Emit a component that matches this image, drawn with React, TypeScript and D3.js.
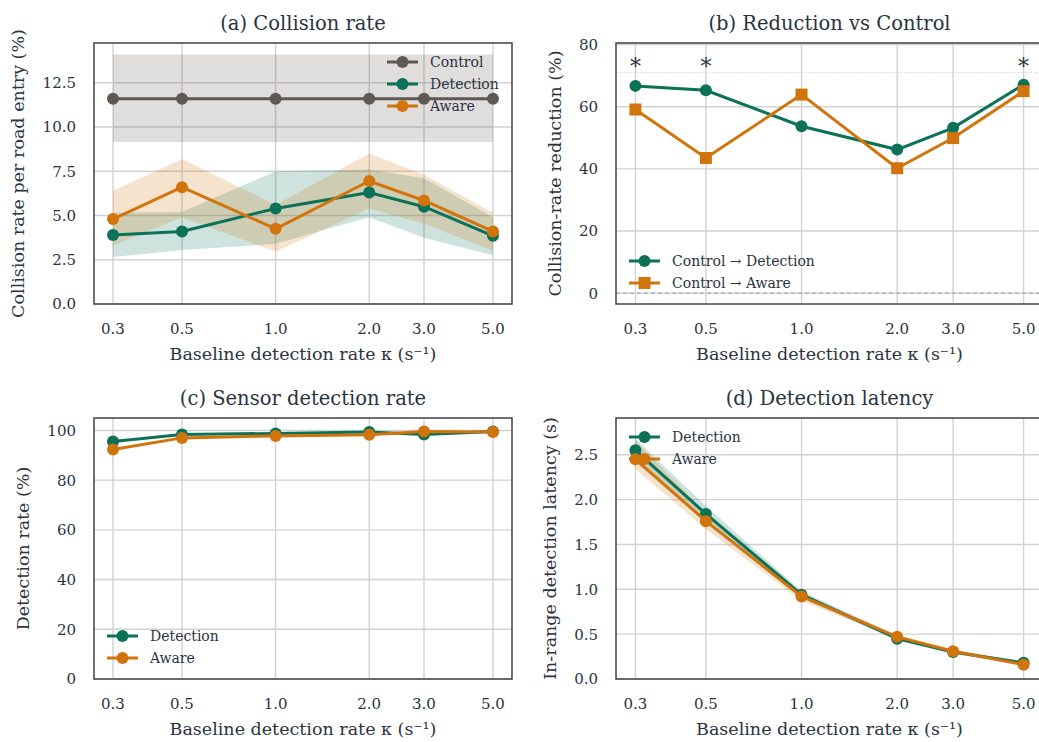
import React, { useRef, useEffect } from 'react';
import * as d3 from 'd3';

// x: baseline detection rate kappa (log axis)
const kappa = [0.3, 0.5, 1.0, 2.0, 3.0, 5.0];
const kappaLabels = ['0.3', '0.5', '1.0', '2.0', '3.0', '5.0'];

// (a) collision rate per road entry (%)
const controlRate = [11.6, 11.6, 11.6, 11.6, 11.6, 11.6];
const controlLo = [9.15, 9.15, 9.15, 9.15, 9.15, 9.15];
const controlHi = [14.1, 14.1, 14.1, 14.1, 14.1, 14.1];
const detectionRate = [3.9, 4.1, 5.4, 6.3, 5.5, 3.85];
const detectionLo = [2.65, 3.05, 3.4, 4.9, 3.75, 2.75];
const detectionHi = [5.15, 5.2, 7.5, 7.6, 7.1, 4.9];
const awareRate = [4.8, 6.6, 4.25, 6.95, 5.85, 4.1];
const awareLo = [3.3, 4.9, 2.95, 5.4, 4.55, 3.0];
const awareHi = [6.4, 8.2, 5.6, 8.5, 7.3, 5.15];

// (b) reduction vs control (%)
const reductionDetection = [66.7, 65.3, 53.7, 46.2, 53.2, 67.1];
const reductionAware = [59.1, 43.5, 63.9, 40.2, 49.9, 65.0];
const significant = [true, true, false, false, false, true];

// (c) sensor detection rate (%)
const sensorDetection = [95.5, 98.4, 98.8, 99.4, 98.4, 99.6];
const sensorAware = [92.3, 97.0, 97.8, 98.3, 99.6, 99.4];

// (d) in-range detection latency (s)
const latencyDetection = [2.55, 1.84, 0.94, 0.45, 0.30, 0.18];
const latencyDetectionLo = [2.44, 1.76, 0.9, 0.43, 0.28, 0.16];
const latencyDetectionHi = [2.68, 1.93, 0.98, 0.48, 0.32, 0.2];
const latencyAware = [2.45, 1.76, 0.92, 0.47, 0.31, 0.16];
const latencyAwareLo = [2.34, 1.67, 0.87, 0.45, 0.29, 0.14];
const latencyAwareHi = [2.66, 1.85, 0.96, 0.49, 0.33, 0.18];

const FONT = "'DejaVu Serif', serif";
const INK = '#2b3340';
const GRID = '#d2d2d2';
const FRAME = '#4d4d4d';
const C_CONTROL = '#5e5955';
const C_DET = '#0b7258';
const C_AWARE = '#d2740c';

const xLabel = 'Baseline detection rate \u03ba (s\u207b\u00b9)';

function drawPanel(svg, p) {
  const g = svg.append('g');
  const span = Math.log10(kappa[kappa.length - 1] / kappa[0]);
  const pad = Math.pow(10, span * 0.05);
  const x = d3.scaleLog()
    .domain([kappa[0] / pad, kappa[kappa.length - 1] * pad])
    .range([p.x0, p.x1]);
  const y = d3.scaleLinear().domain(p.yDomain).range([p.y1, p.y0]);

  svg.append('clipPath').attr('id', 'clip-' + p.key)
    .append('rect')
    .attr('x', p.x0).attr('y', p.y0)
    .attr('width', p.x1 - p.x0).attr('height', p.y1 - p.y0);

  // grid
  g.selectAll('.vgrid').data(kappa).enter().append('line')
    .attr('x1', d => x(d)).attr('x2', d => x(d))
    .attr('y1', p.y0).attr('y2', p.y1)
    .attr('stroke', GRID).attr('stroke-width', 1.4);
  g.selectAll('.hgrid').data(p.yTicks).enter().append('line')
    .attr('x1', p.x0).attr('x2', p.x1)
    .attr('y1', d => y(d)).attr('y2', d => y(d))
    .attr('stroke', GRID).attr('stroke-width', 1.4);

  const plot = g.append('g').attr('clip-path', `url(#clip-${p.key})`);

  if (p.extras) p.extras(plot, x, y);

  // bands
  p.series.forEach(s => {
    if (!s.lo) return;
    const area = d3.area()
      .x((d, i) => x(kappa[i]))
      .y0((d, i) => y(s.lo[i]))
      .y1((d, i) => y(s.hi[i]));
    plot.append('path').datum(s.values).attr('d', area)
      .attr('fill', s.color).attr('fill-opacity', 0.2);
  });

  // lines + markers
  p.series.forEach(s => {
    const line = d3.line().x((d, i) => x(kappa[i])).y(d => y(d));
    plot.append('path').datum(s.values).attr('d', line)
      .attr('fill', 'none').attr('stroke', s.color).attr('stroke-width', 3);
    if (s.marker === 'square') {
      plot.selectAll(null).data(s.values).enter().append('rect')
        .attr('x', (d, i) => x(kappa[i]) - 6).attr('y', d => y(d) - 6)
        .attr('width', 12).attr('height', 12).attr('fill', s.color);
    } else {
      plot.selectAll(null).data(s.values).enter().append('circle')
        .attr('cx', (d, i) => x(kappa[i])).attr('cy', d => y(d))
        .attr('r', 6).attr('fill', s.color);
    }
  });

  if (p.overlay) p.overlay(plot, x, y);

  // frame
  g.append('rect')
    .attr('x', p.x0).attr('y', p.y0)
    .attr('width', p.x1 - p.x0).attr('height', p.y1 - p.y0)
    .attr('fill', 'none').attr('stroke', FRAME).attr('stroke-width', 1.6);

  // tick labels
  g.selectAll('.xt').data(kappa).enter().append('text')
    .attr('x', d => x(d)).attr('y', p.y1 + 30)
    .attr('text-anchor', 'middle')
    .attr('font-family', FONT).attr('font-size', 15).attr('fill', INK)
    .text((d, i) => kappaLabels[i]);
  g.selectAll('.yt').data(p.yTicks).enter().append('text')
    .attr('x', p.x0 - 18).attr('y', d => y(d))
    .attr('dy', '0.36em')
    .attr('text-anchor', 'end')
    .attr('font-family', FONT).attr('font-size', 15).attr('fill', INK)
    .text(p.yFormat);

  // titles and axis labels
  g.append('text')
    .attr('x', (p.x0 + p.x1) / 2).attr('y', p.y0 - 13)
    .attr('text-anchor', 'middle')
    .attr('font-family', FONT).attr('font-size', 19.5).attr('fill', INK)
    .text(p.title);
  g.append('text')
    .attr('x', (p.x0 + p.x1) / 2).attr('y', p.y1 + 56)
    .attr('text-anchor', 'middle')
    .attr('font-family', FONT).attr('font-size', 17.5).attr('fill', INK)
    .text(xLabel);
  g.append('text')
    .attr('transform', `translate(${p.yLabelX},${(p.y0 + p.y1) / 2}) rotate(-90)`)
    .attr('text-anchor', 'middle')
    .attr('font-family', FONT).attr('font-size', 17.5).attr('fill', INK)
    .text(p.yLabel);

  // legend
  const lg = g.append('g').attr('transform', `translate(${p.legend.x},${p.legend.y})`);
  p.series.forEach((s, i) => {
    const row = lg.append('g').attr('transform', `translate(0,${i * 22})`);
    row.append('line').attr('x1', 0).attr('x2', 31).attr('y1', 0).attr('y2', 0)
      .attr('stroke', s.color).attr('stroke-width', 3);
    if (s.marker === 'square') {
      row.append('rect').attr('x', 9.5).attr('y', -6).attr('width', 12).attr('height', 12)
        .attr('fill', s.color);
    } else {
      row.append('circle').attr('cx', 15.5).attr('cy', 0).attr('r', 6).attr('fill', s.color);
    }
    row.append('text').attr('x', 43).attr('y', 0).attr('dy', '0.35em')
      .attr('font-family', FONT).attr('font-size', 14).attr('fill', INK)
      .text(s.label);
  });
}

const App = () => {
  const svgRef = useRef(null);

  useEffect(() => {
    const svg = d3.select(svgRef.current);
    svg.selectAll('*').remove();

    drawPanel(svg, {
      key: 'a', x0: 94, x1: 512, y0: 43, y1: 304,
      yDomain: [0, 14.75], yTicks: [0, 2.5, 5, 7.5, 10, 12.5], yFormat: d3.format('.1f'),
      title: '(a) Collision rate', yLabel: 'Collision rate per road entry (%)', yLabelX: 24,
      legend: { x: 387, y: 62 },
      series: [
        { label: 'Control', values: controlRate, lo: controlLo, hi: controlHi, color: C_CONTROL },
        { label: 'Detection', values: detectionRate, lo: detectionLo, hi: detectionHi, color: C_DET },
        { label: 'Aware', values: awareRate, lo: awareLo, hi: awareHi, color: C_AWARE },
      ],
    });

    drawPanel(svg, {
      key: 'b', x0: 616, x1: 1043, y0: 43, y1: 304,
      yDomain: [-3.5, 80.5], yTicks: [0, 20, 40, 60, 80], yFormat: d3.format('d'),
      title: '(b) Reduction vs Control', yLabel: 'Collision-rate reduction (%)', yLabelX: 561,
      legend: { x: 629, y: 261 },
      series: [
        { label: 'Control \u2192 Detection', values: reductionDetection, color: C_DET },
        { label: 'Control \u2192 Aware', values: reductionAware, color: C_AWARE, marker: 'square' },
      ],
      extras: (plot, x, y) => {
        plot.append('line').attr('x1', 616).attr('x2', 1043)
          .attr('y1', y(0)).attr('y2', y(0))
          .attr('stroke', '#9a9a9a').attr('stroke-width', 1).attr('stroke-dasharray', '4,3');
        plot.append('line').attr('x1', 616).attr('x2', 1043)
          .attr('y1', y(71)).attr('y2', y(71))
          .attr('stroke', '#d8d8d8').attr('stroke-width', 1).attr('stroke-dasharray', '1.5,1.5');
      },
      overlay: (plot, x, y) => {
        plot.selectAll(null).data(kappa.filter((k, i) => significant[i])).enter().append('text')
          .attr('x', d => x(d)).attr('y', y(70.5))
          .attr('text-anchor', 'middle')
          .attr('font-family', FONT).attr('font-size', 22).attr('fill', INK)
          .text('*');
      },
    });

    drawPanel(svg, {
      key: 'c', x0: 94, x1: 512, y0: 418, y1: 679,
      yDomain: [0, 105], yTicks: [0, 20, 40, 60, 80, 100], yFormat: d3.format('d'),
      title: '(c) Sensor detection rate', yLabel: 'Detection rate (%)', yLabelX: 29,
      legend: { x: 107, y: 636 },
      series: [
        { label: 'Detection', values: sensorDetection, color: C_DET },
        { label: 'Aware', values: sensorAware, color: C_AWARE },
      ],
    });

    drawPanel(svg, {
      key: 'd', x0: 616, x1: 1043, y0: 418, y1: 679,
      yDomain: [0, 2.91], yTicks: [0, 0.5, 1, 1.5, 2, 2.5], yFormat: d3.format('.1f'),
      title: '(d) Detection latency', yLabel: 'In-range detection latency (s)', yLabelX: 556,
      legend: { x: 629, y: 437 },
      series: [
        { label: 'Detection', values: latencyDetection, lo: latencyDetectionLo, hi: latencyDetectionHi, color: C_DET },
        { label: 'Aware', values: latencyAware, lo: latencyAwareLo, hi: latencyAwareHi, color: C_AWARE },
      ],
    });
  }, []);

  return (
    <svg ref={svgRef} width={1039} height={742}
      style={{ position: 'absolute', left: 0, top: 0, background: '#fff' }} />
  );
};

export default App;
